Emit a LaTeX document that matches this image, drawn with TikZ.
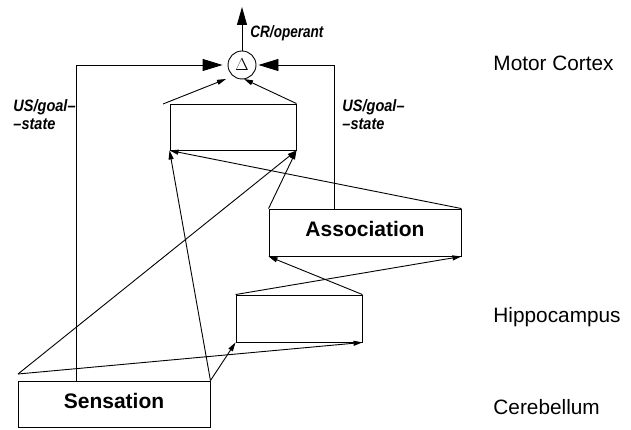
\documentclass[tikz,border=0pt]{standalone}
\usepackage{fontspec}
\setmainfont{Liberation Sans}
\usetikzlibrary{arrows.meta,calc}
\begin{document}
\begin{tikzpicture}[x=1pt,y=-1pt,line width=0.9pt,
  boxnode/.style={draw,rectangle,inner sep=0pt,fill=white},
  boxtxt/.style={font=\fontsize{21}{24}\selectfont\bfseries,inner sep=0pt},
  region/.style={font=\fontsize{20.8}{24}\selectfont,anchor=base west,inner sep=0pt},
  note/.style={font=\fontsize{16.5}{20}\selectfont\bfseries\itshape,anchor=base west,inner sep=0pt},
  small/.style={-{Triangle[length=9pt,width=5pt]}},
  big/.style={-{Triangle[length=20pt,width=12pt]}}]
\useasboundingbox (0,0) rectangle (631,430);

% boxes
\node[boxnode,minimum width=126pt,minimum height=46pt] (topbox) at (233,127) {};
\node[boxnode,minimum width=192pt,minimum height=47pt] (assoc) at (365,232.5) {};
\node[boxnode,minimum width=126pt,minimum height=47pt] (hippo) at (299,318.5) {};
\node[boxnode,minimum width=192pt,minimum height=46pt] (sens) at (114,404) {};
\node[boxtxt] at ([yshift=4pt]assoc.center) {Association};
\node[boxtxt] at ([yshift=3.5pt]sens.center) {Sensation};

% delta
\node[draw,circle,minimum size=28pt,inner sep=0pt] (delta) at (242,65)
  {\fontsize{19}{20}\selectfont$\Delta$};

% coordinates
\coordinate (out) at (242,7);
\coordinate (tl) at (163,104);
\coordinate (tipl) at (226,79);
\coordinate (tipr) at (244,79);
\coordinate (sl) at (18,374);

% feedback lines
\draw[big] ([xshift=59pt]sens.north west) |- ([xshift=-5pt]delta.west);
\draw[big] ([xshift=66pt]assoc.north west) |- ([xshift=2pt]delta.east);
\draw[-{Triangle[length=18pt,width=10pt]}] (delta.north) -- (out);

% into delta
\draw[small] (tl) -- (tipl);
\draw[small] (topbox.north east) -- (tipr);

% into top box
\draw[small] (assoc.north east) -- (topbox.south west);
\draw[small] (assoc.north west) -- (topbox.south east);
\draw[small] (sens.north east) -- (topbox.south west);
\draw[small] (sl) -- (topbox.south east);

% into hippocampus box
\draw[small] (sl) -- (hippo.south east);
\draw[small] (sens.north east) -- (hippo.south west);

% into association
\draw[small] (hippo.north west) -- (assoc.south east);
\draw[small] (hippo.north east) -- (assoc.south west);

% labels
\node[note] (cr) at (250,38) {\scalebox{0.82}[1]{CR/operant}};
\node[note] (usl1) at (13,112) {\scalebox{0.88}[1]{US/goal–}};
\node[note] (usl2) at (13,130) {\scalebox{0.88}[1]{–state}};
\node[note] (usr1) at (342,112) {\scalebox{0.88}[1]{US/goal–}};
\node[note] (usr2) at (342,130) {\scalebox{0.88}[1]{–state}};
\node[region] (mc) at (493,71) {Motor Cortex};
\node[region] (hc) at (493,322) {Hippocampus};
\node[region] (cb) at (493,414) {Cerebellum};
\end{tikzpicture}
\end{document}
